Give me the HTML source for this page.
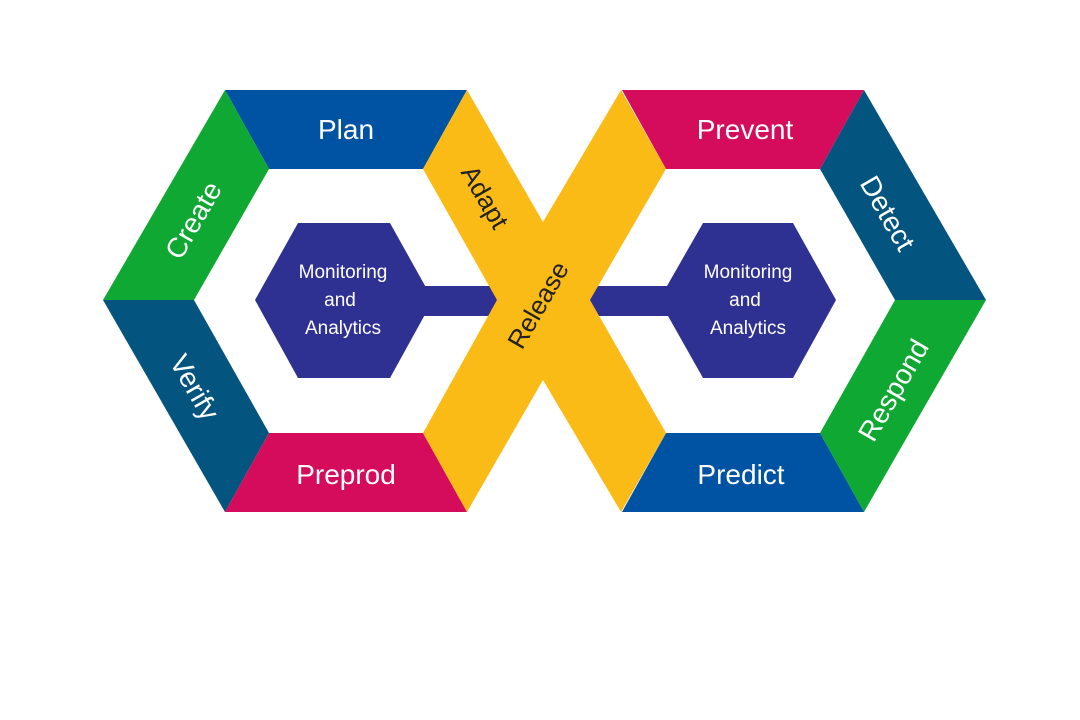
<!DOCTYPE html>
<html><head><meta charset="utf-8"><style>
html,body{margin:0;padding:0;background:#fff;width:1080px;height:720px;overflow:hidden}
svg{display:block}
text{font-family:"Liberation Sans",sans-serif}
</style></head><body>
<svg width="1080" height="720" viewBox="0 0 1080 720">
<rect width="1080" height="720" fill="#fff"/>
<!-- connectors -->
<rect x="390" y="286" width="110" height="30" fill="#2e3192"/>
<rect x="588" y="286" width="115" height="30" fill="#2e3192"/>
<!-- left hex segments -->
<polygon points="225,90 467,90 423,169 269,169" fill="#0052a3"/>
<polygon points="103,300 225,90 269,169 194,300" fill="#0fa832"/>
<polygon points="103,300 194,300 269,433 225,512" fill="#03547e"/>
<polygon points="225,512 269,433 423,433 467,512" fill="#d40c5b"/>
<!-- right hex segments -->
<polygon points="622,90 864,90 820,169 666,169" fill="#d40c5b"/>
<polygon points="864,90 986,300 895,300 820,169" fill="#03547e"/>
<polygon points="986,300 864,512 820,433 895,300" fill="#0fa832"/>
<polygon points="622,512 666,433 820,433 864,512" fill="#0052a3"/>
<!-- yellow X -->
<polygon points="467,90 543,222 621,90 666,169 590,300 666,433 621,512 543,380 467,512 423,433 497,300 423,169" fill="#fbbb17"/>
<!-- inner hexes -->
<polygon points="298,223 390,223 433,300 390,378 298,378 255,300" fill="#2e3192"/>
<polygon points="703,223 793,223 836,300 793,378 703,378 659,300" fill="#2e3192"/>
<g fill="#fff" font-size="19" text-anchor="middle">
<text x="343" y="278">Monitoring</text><text x="340" y="306">and</text><text x="343" y="334">Analytics</text>
<text x="748" y="278">Monitoring</text><text x="745" y="306">and</text><text x="748" y="334">Analytics</text>
</g>
<g fill="#fff" font-size="28" text-anchor="middle">
<text x="346" y="139">Plan</text>
<text x="346" y="484">Preprod</text>
<text x="745" y="139">Prevent</text>
<text x="741" y="484">Predict</text>
<text transform="translate(193,220) rotate(-60)" y="10">Create</text>
<text transform="translate(195,387) rotate(60)" y="10">Verify</text>
<text transform="translate(888,213) rotate(60)" y="10">Detect</text>
<text transform="translate(893,390) rotate(-60)" y="10">Respond</text>
</g>
<g fill="#222" font-size="26" text-anchor="middle">
<text transform="translate(485,197) rotate(60)" y="9">Adapt</text>
<text transform="translate(538,305) rotate(-60)" y="9">Release</text>
</g>
</svg>
</body></html>
